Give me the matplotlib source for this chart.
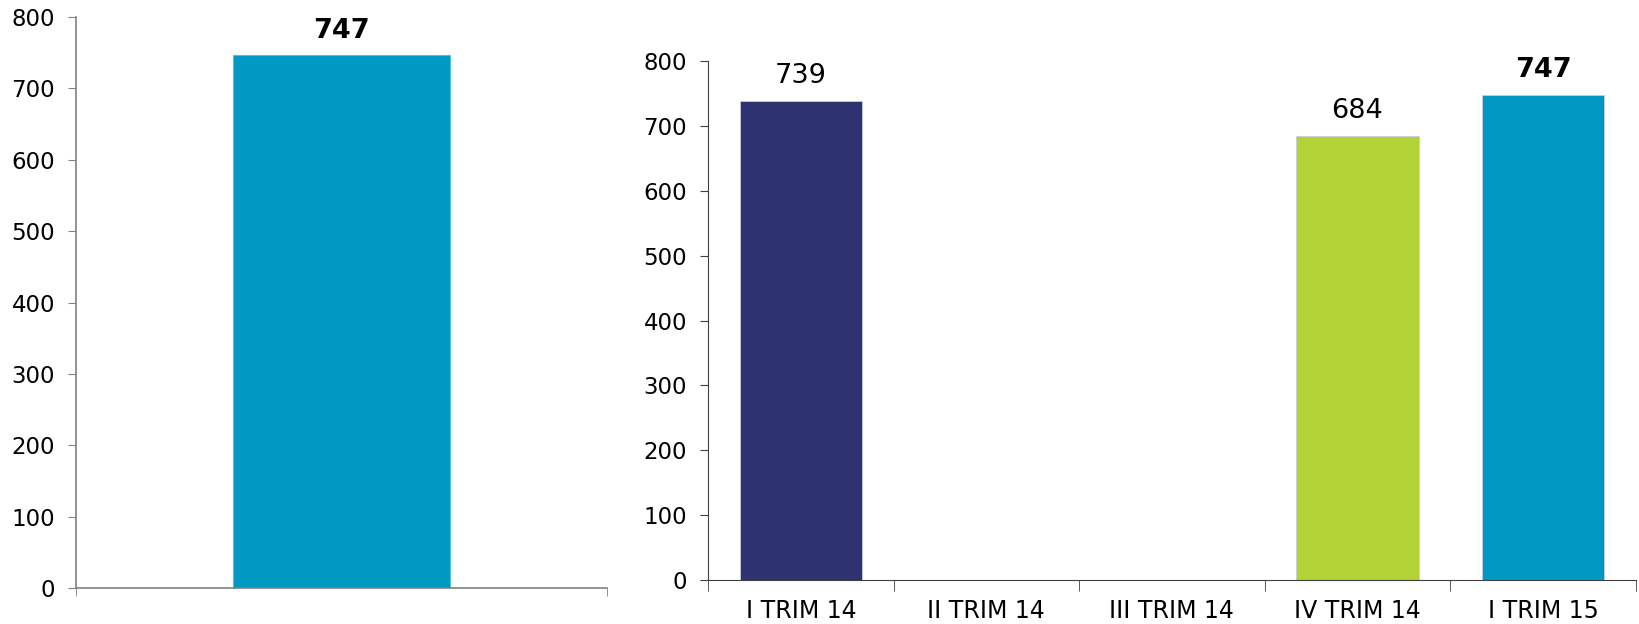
import numpy as np
import matplotlib.pyplot as plt

# datos
total_label = [""]
total_value = [747]

trimestres = ["I TRIM 14", "II TRIM 14", "III TRIM 14", "IV TRIM 14", "I TRIM 15"]
valores = [739, np.nan, np.nan, 684, 747]
colores = ["#2E3270", "#2E3270", "#2E3270", "#B2D235", "#0099C4"]
negrita = [False, False, False, False, True]

plt.rcParams['font.family'] = ['DejaVu Sans']

fig = plt.figure(figsize=(16.39, 6.24), dpi=100)

# grafico izquierdo
ax1 = fig.add_axes([0.0464, 0.0577, 0.3240, 0.915])
x1 = np.arange(len(total_value))
ax1.bar(x1, total_value, width=0.41, color="#0099C4", edgecolor="#4FC0E0", linewidth=0.8)
for xi, v in zip(x1, total_value):
    ax1.annotate(f"{v}", (xi, v), xytext=(0, 17.5), textcoords="offset points",
                 ha="center", va="center", fontsize=19.5, fontweight="bold")
ax1.set_xlim(-0.5, len(total_value) - 0.5)
ax1.set_ylim(0, 800)
ax1.set_yticks(range(0, 801, 100))
ax1.set_xticks([])
ax1.set_xticks(np.arange(-0.5, len(total_value), 1.0), minor=True)
ax1.tick_params(axis="x", which="minor", direction="out", length=6, color="#808080")
ax1.tick_params(axis="y", direction="out", length=6, pad=9, labelsize=16.5, color="#808080")
for s in ["top", "right"]:
    ax1.spines[s].set_visible(False)
for s in ["left", "bottom"]:
    ax1.spines[s].set_color("#808080")
    ax1.spines[s].set_linewidth(1.2)

# grafico derecho
ax2 = fig.add_axes([0.432, 0.0705, 0.566, 0.8317])
x2 = np.arange(len(trimestres))
ax2.bar(x2, valores, width=0.66, color=colores, edgecolor="#C8CCE0", linewidth=0.6)
for xi, v, b in zip(x2, valores, negrita):
    if np.isnan(v):
        continue
    ax2.annotate(f"{v:.0f}", (xi, v), xytext=(0, 18), textcoords="offset points",
                 ha="center", va="center", fontsize=19.5,
                 fontweight="bold" if b else "normal")
ax2.set_xlim(-0.5, len(trimestres) - 0.5)
ax2.set_ylim(0, 800)
ax2.set_yticks(range(0, 801, 100))
ax2.set_xticks(x2)
ax2.set_xticklabels(trimestres, fontsize=17)
ax2.set_xticks(np.arange(-0.5, len(trimestres), 1.0), minor=True)
ax2.tick_params(axis="x", which="major", length=0, pad=14)
ax2.tick_params(axis="x", which="minor", direction="out", length=8, color="#404040")
ax2.tick_params(axis="y", direction="out", length=6, pad=9, labelsize=16.5, color="#404040")
for s in ["top", "right"]:
    ax2.spines[s].set_visible(False)
for s in ["left", "bottom"]:
    ax2.spines[s].set_color("#404040")

fig.savefig("out.png", dpi=100)
